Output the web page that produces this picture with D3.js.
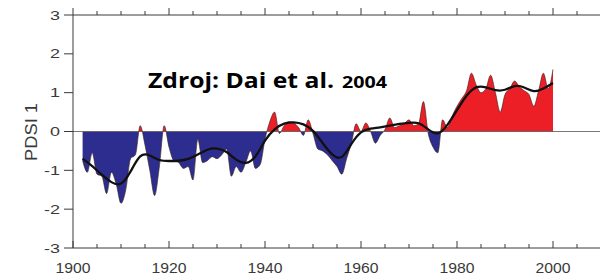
<!DOCTYPE html>
<html><head><meta charset="utf-8">
<script src="https://cdn.jsdelivr.net/npm/d3@7"></script>
<style>body{margin:0;background:#fff}svg{display:block}</style>
</head><body>
<svg id="c" width="600" height="275"></svg>
<script>
const years = d3.range(1902, 2001);
const pdsi = [
 -0.75,-1.05,-0.55,-1.1,-1.15,-1.6,-1.05,-1.35,-1.85,-1.5,
 -0.7,-0.6,0.15,-0.35,-1.0,-1.65,-0.9,0.15,-0.4,-0.75,
 -0.8,-0.95,-0.9,-1.25,-0.2,-0.8,-0.75,-0.65,-0.7,-0.6,
 -0.45,-1.15,-0.9,-1.05,-0.8,-0.5,-0.95,-0.85,-0.2,0.25,
 0.5,-0.05,0.15,0.25,0.22,0.1,-0.1,0.3,-0.05,-0.45,
 -0.5,-0.6,-0.75,-0.9,-1.1,-0.7,-0.3,0.2,0.0,0.22,
 0.0,-0.3,-0.1,0.05,0.35,0.1,0.15,0.2,0.3,0.15,
 0.2,0.77,-0.05,-0.4,-0.55,0.3,0.1,0.4,0.65,0.85,
 1.05,1.5,1.2,1.0,1.1,1.45,1.0,0.5,0.95,1.1,
 1.3,1.15,1.05,0.95,0.65,1.05,1.5,1.1,1.6
];
const smoothYears = [1902,1904,1906,1908,1910,1912,1914,1916,1918,1920,1922,1924,1926,1928,1930,1932,1934,1936,1938,1940,1942,1944,1946,1948,1950,1952,1954,1956,1958,1960,1962,1964,1966,1968,1970,1972,1974,1976,1978,1980,1982,1984,1986,1988,1990,1992,1994,1996,1998,2000];
const smoothVals = [-0.7,-0.88,-1.12,-1.32,-1.42,-1.05,-0.55,-0.6,-0.76,-0.76,-0.76,-0.72,-0.6,-0.45,-0.42,-0.5,-0.75,-0.85,-0.7,-0.2,0.08,0.22,0.25,0.2,0.05,-0.3,-0.62,-0.75,-0.3,0.02,0.08,0.1,0.15,0.2,0.22,0.25,0.05,-0.12,0.15,0.55,0.95,1.18,1.15,1.05,1.05,1.2,1.15,1.0,1.1,1.25];
const xTicks = [1900,1920,1940,1960,1980,2000];
const yTicks = [-3,-2,-1,0,1,2,3];

const svg = d3.select('#c');
const x = d3.scaleLinear().domain([1900, 2010]).range([73, 601]);
const y = d3.scaleLinear().domain([-3, 3]).range([248, 15]);
const blue = '#2d2d8f', red = '#ec1f26';
const data = years.map((yr,i)=>({yr, v:pdsi[i]}));

svg.append('clipPath').attr('id','cpos').append('rect')
  .attr('x',0).attr('y',0).attr('width',600).attr('height',y(0));
svg.append('clipPath').attr('id','cneg').append('rect')
  .attr('x',0).attr('y',y(0)).attr('width',600).attr('height',275);

const area = d3.area().x(d=>x(d.yr)).y0(y(0)).y1(d=>y(d.v)).curve(d3.curveMonotoneX);
svg.append('path').datum(data).attr('d',area).attr('fill',red).attr('clip-path','url(#cpos)');
svg.append('path').datum(data).attr('d',area).attr('fill',blue).attr('clip-path','url(#cneg)');
svg.append('path').datum(data)
  .attr('d',d3.line().x(d=>x(d.yr)).y(d=>y(d.v)).curve(d3.curveMonotoneX))
  .attr('fill','none').attr('stroke','#3a2020').attr('stroke-width',0.8).attr('opacity',0.8);

svg.append('line').attr('x1',x(1900)).attr('x2',600).attr('y1',y(0)).attr('y2',y(0))
  .attr('stroke','#555').attr('stroke-width',0.8);

const sm = smoothYears.map((yr,i)=>({yr, v:smoothVals[i]}));
svg.append('path').datum(sm)
  .attr('d',d3.line().x(d=>x(d.yr)).y(d=>y(d.v)).curve(d3.curveBasis))
  .attr('fill','none').attr('stroke','#111').attr('stroke-width',2.3);

const axCol = '#3a3a3a';
const g = svg.append('g').attr('stroke',axCol).attr('stroke-width',1);
g.append('line').attr('x1',73).attr('x2',600).attr('y1',15).attr('y2',15);
g.append('line').attr('x1',73).attr('x2',600).attr('y1',248).attr('y2',248);
g.append('line').attr('x1',73).attr('x2',73).attr('y1',15).attr('y2',248);
const minor = d3.range(1900, 2011, 5);
minor.forEach(t=>{
  const maj = t % 20 === 0;
  const L = maj ? 7 : 4;
  g.append('line').attr('x1',x(t)).attr('x2',x(t)).attr('y1',248).attr('y2',248-L);
  g.append('line').attr('x1',x(t)).attr('x2',x(t)).attr('y1',15).attr('y2',15-L);
});
yTicks.forEach(t=>{
  g.append('line').attr('x1',64).attr('x2',73).attr('y1',y(t)).attr('y2',y(t));
});
const font = 'Liberation Sans, Arial, sans-serif';
svg.append('g').selectAll('text').data(yTicks).join('text')
  .attr('x',60).attr('y',d=>y(d)+4.5).attr('text-anchor','end')
  .attr('font-family',font).attr('font-size',13).attr('fill',axCol)
  .attr('textLength',d=>d<0?16:10).attr('lengthAdjust','spacingAndGlyphs')
  .text(d=>d);
svg.append('g').selectAll('text').data(xTicks).join('text')
  .attr('x',d=>x(d)).attr('y',273).attr('text-anchor','middle')
  .attr('font-family',font).attr('font-size',14).attr('fill',axCol)
  .attr('textLength',35).attr('lengthAdjust','spacingAndGlyphs')
  .text(d=>d);
svg.append('text').attr('transform','translate(37,132) rotate(-90)')
  .attr('text-anchor','middle').attr('font-family',font).attr('font-size',16)
  .attr('fill',axCol).attr('textLength',58).attr('lengthAdjust','spacingAndGlyphs').text('PDSI 1');

svg.append('text').attr('x',148).attr('y',88)
  .attr('font-family','Open Sans, Lato, sans-serif').attr('font-weight','bold').attr('fill','#000')
  .attr('font-size',21).attr('textLength',186).attr('lengthAdjust','spacingAndGlyphs')
  .text('Zdroj: Dai et al.');
svg.append('text').attr('x',342).attr('y',88)
  .attr('font-family','Open Sans, Lato, sans-serif').attr('font-weight','bold').attr('fill','#000')
  .attr('font-size',16.5).attr('textLength',45).attr('lengthAdjust','spacingAndGlyphs')
  .text('2004');
</script>
</body></html>
